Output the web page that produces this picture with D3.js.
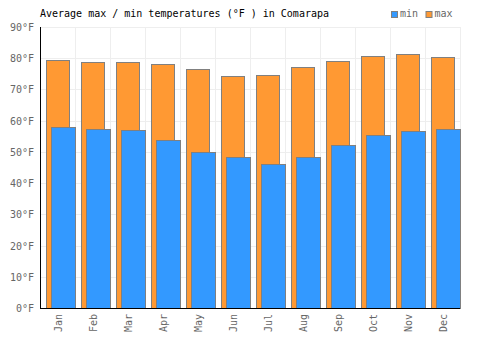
<!DOCTYPE html>
<html>
<head>
<meta charset="utf-8">
<script src="https://cdn.jsdelivr.net/npm/d3@7"></script>
<style>
  body { margin: 0; background: #fff; }
  svg text { font-family: "DejaVu Sans Mono", monospace; font-size: 10px; }
</style>
</head>
<body>
<svg id="chart" width="500" height="350"></svg>
<script>
// Monthly averages, °F
const months = ["Jan", "Feb", "Mar", "Apr", "May", "Jun", "Jul", "Aug", "Sep", "Oct", "Nov", "Dec"];
const maxTemps = [79.3, 78.7, 78.7, 78.1, 76.5, 74.2, 74.5, 77.1, 79.0, 80.6, 81.3, 80.3];
const minTemps = [57.9, 57.2, 56.9, 53.7, 49.9, 48.3, 46.0, 48.3, 52.1, 55.3, 56.7, 57.2];
const yTicks = [0, 10, 20, 30, 40, 50, 60, 70, 80, 90];

const svg = d3.select("#chart");
const margin = { top: 27, right: 40, bottom: 42, left: 40 };
const innerWidth = 500 - margin.left - margin.right;
const innerHeight = 350 - margin.top - margin.bottom;

const g = svg.append("g").attr("transform", `translate(${margin.left},${margin.top})`);

const x = d3.scaleBand().domain(months).range([0, innerWidth]);
const y = d3.scaleLinear().domain([0, 90]).range([innerHeight, 0]);
const bw = x.bandwidth();

// grid
g.selectAll(".hgrid").data(yTicks).enter().append("line")
  .attr("x1", 0).attr("x2", innerWidth)
  .attr("y1", d => Math.round(y(d)) + 0.5).attr("y2", d => Math.round(y(d)) + 0.5)
  .attr("stroke", "#eeeeee");
g.selectAll(".vgrid").data(months).enter().append("line")
  .attr("x1", d => Math.round(x(d) + bw) + 0.5).attr("x2", d => Math.round(x(d) + bw) + 0.5)
  .attr("y1", 0).attr("y2", innerHeight)
  .attr("stroke", "#eeeeee");

// max bars (behind)
g.selectAll(".max").data(months).enter().append("rect")
  .attr("x", d => x(d) + 6.5)
  .attr("width", 23)
  .attr("y", (d, i) => Math.round(y(maxTemps[i])) + 0.5)
  .attr("height", (d, i) => innerHeight - Math.round(y(maxTemps[i])))
  .attr("fill", "#ff9933").attr("stroke", "#808080").attr("stroke-width", 1);

// min bars (front)
g.selectAll(".min").data(months).enter().append("rect")
  .attr("x", d => x(d) + 11.5)
  .attr("width", 24)
  .attr("y", (d, i) => Math.round(y(minTemps[i])) + 0.5)
  .attr("height", (d, i) => innerHeight - Math.round(y(minTemps[i])))
  .attr("fill", "#3399ff").attr("stroke", "#808080").attr("stroke-width", 1);

// axes
g.append("line").attr("x1", 0.5).attr("x2", 0.5).attr("y1", 0).attr("y2", innerHeight)
  .attr("stroke", "#000");
g.append("line").attr("x1", 0).attr("x2", innerWidth)
  .attr("y1", innerHeight + 0.5).attr("y2", innerHeight + 0.5).attr("stroke", "#000");

// y labels
g.selectAll(".ylab").data(yTicks).enter().append("text")
  .attr("x", -6).attr("y", d => y(d) + 4)
  .attr("text-anchor", "end").attr("fill", "#666")
  .text(d => d + "°F");

// x labels
g.selectAll(".xlab").data(months).enter().append("text")
  .attr("transform", d => `translate(${x(d) + bw / 2 + 4},${innerHeight + 6}) rotate(-90)`)
  .attr("text-anchor", "end").attr("fill", "#666")
  .text(d => d);

// title
svg.append("text").attr("x", 40).attr("y", 17).attr("fill", "#000")
  .text("Average max / min temperatures (°F ) in Comarapa");

// legend
const legend = [["min", "#3399ff", 391], ["max", "#ff9933", 425.5]];
legend.forEach(([label, color, lx]) => {
  svg.append("rect").attr("x", lx + 0.5).attr("y", 11.5).attr("width", 6).attr("height", 6)
    .attr("fill", color).attr("stroke", "#808080");
  svg.append("text").attr("x", lx + 9).attr("y", 17).attr("fill", "#666").text(label);
});
</script>
</body>
</html>
